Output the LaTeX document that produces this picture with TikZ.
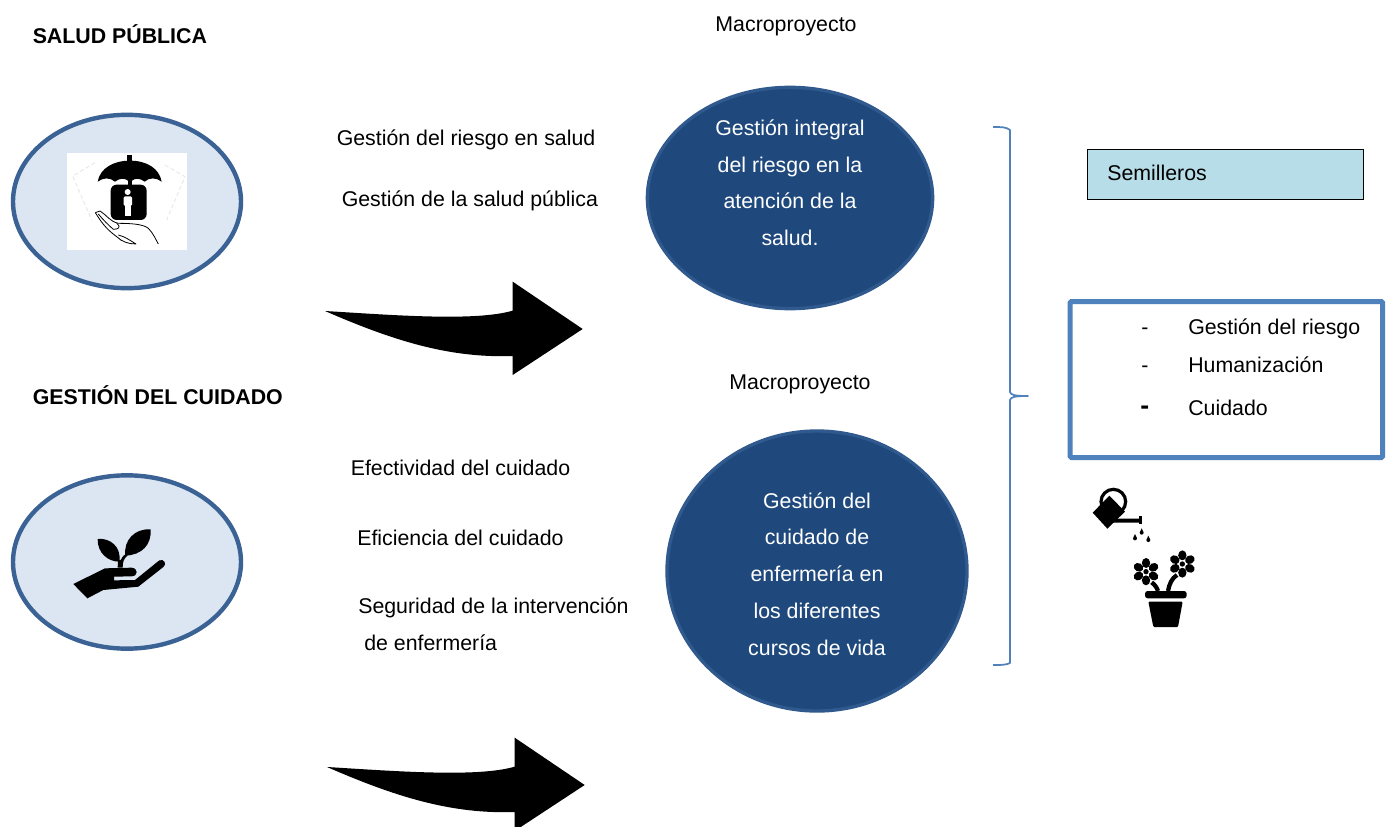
\documentclass[tikz,border=0pt]{standalone}
\usepackage{fontspec}
\setmainfont{Liberation Sans}
\definecolor{lightblue}{HTML}{DCE6F2}
\definecolor{ringblue}{HTML}{3B6294}
\definecolor{darkblue}{HTML}{1F497D}
\definecolor{darkring}{HTML}{30598E}
\definecolor{semi}{HTML}{B7DEE8}
\definecolor{boxblue}{HTML}{4F81BD}
\tikzset{
  lbl/.style={anchor=west,inner sep=0pt,text height=13pt,text depth=1.5pt,font=\fontsize{16}{18}\selectfont,text=black},
  head/.style={lbl,font=\fontsize{16}{18}\selectfont\bfseries},
  oval/.style={ellipse,draw=ringblue,line width=3.3pt,fill=lightblue,inner sep=0pt,minimum width=171pt,minimum height=130pt},
  macro/.style={ellipse,draw=darkring,line width=2.5pt,fill=darkblue,inner sep=0pt},
  inoval/.style={lbl,anchor=center,text=white},
  swoosh/.style={fill=black,draw=none},
}
\usetikzlibrary{shapes.geometric}
\begin{document}
\begin{tikzpicture}[x=0.75pt,y=-0.75pt]
\useasboundingbox (0,0) rectangle (1387,827);
\fill[white] (0,0) rectangle (1387,827);

\node[head] (t1) at (32.5,36) {SALUD PÚBLICA};
\node[head] (t2) at (32.5,397) {GESTIÓN DEL CUIDADO};

\node[oval] (c1) at (127,201.5) {};
\node[oval] (c2) at (127,562) {};

% umbrella icon
\begin{scope}[shift={(50,140)},scale=1/3]
\fill[white] (51,39) rectangle (411,330);
\draw[black!9,densely dashed,line width=.7pt] (135,68) -- (68,108) -- (125,240);
\draw[black!9,densely dashed,line width=.7pt] (345,75) -- (405,110) -- (350,240);
\fill[black] (232,45) rectangle (247,70);
\fill[black] (143,125) .. controls (150,85) and (190,62) .. (240,62) .. controls (290,62) and (328,85) .. (335,125)
  .. controls (318,112) and (298,112) .. (284,125) .. controls (270,114) and (255,114) .. (246,122) -- (234,122)
  .. controls (225,114) and (208,114) .. (195,125) .. controls (180,112) and (160,112) .. (143,125) -- cycle;
\fill[black] (234,120) rectangle (246,136);
\fill[black,rounded corners=4.5pt] (182,134) rectangle (290,240);
\fill[white] (233,156) circle (9);
\fill[white,rounded corners=1pt] (221,169) rectangle (246,198);
\fill[white] (225,195) rectangle (243,228);
\draw[black,line width=.6pt,line join=round] (136,218) -- (150,213) .. controls (170,225) and (180,245) .. (205,250)
  .. controls (240,250) and (280,252) .. (295,265) .. controls (310,280) and (318,300) .. (325,312);
\draw[black,line width=.6pt,line join=round] (136,218) .. controls (150,240) and (165,265) .. (200,290)
  .. controls (215,305) and (235,312) .. (258,312) .. controls (235,298) and (225,290) .. (205,285);
\draw[black,line width=.6pt] (145,222) .. controls (160,240) and (175,255) .. (190,268) .. controls (205,268) and (215,262) .. (200,250);
\end{scope}

% plant in hand icon
\begin{scope}[shift={(60,515)},scale=1/3]
\fill[black] (113,72) .. controls (150,68) and (185,95) .. (178,140) .. controls (145,140) and (112,115) .. (113,72) -- cycle;
\fill[black] (272,43) .. controls (275,90) and (245,120) .. (196,122) .. controls (190,75) and (225,40) .. (272,43) -- cycle;
\fill[black] (173,158) -- (174,135) -- (182,135) .. controls (186,125) and (192,120) .. (200,115) -- (202,122) .. controls (192,130) and (188,140) .. (188,158) -- cycle;
\fill[black] (40,207) -- (135,160) -- (215,158) .. controls (235,160) and (235,183) .. (215,184) -- (162,185) -- (162,196) -- (225,195) -- (298,136) .. controls (312,130) and (322,148) .. (310,156) -- (235,215) -- (130,225) -- (82,250) -- cycle;
\end{scope}

\node[lbl] (a1) at (336.5,138) {Gestión del riesgo en salud};
\node[lbl] (a2) at (341.5,199) {Gestión de la salud pública};
\node[lbl] (b1) at (350.5,468) {Efectividad del cuidado};
\node[lbl] (b2) at (357,538) {Eficiencia del cuidado};
\node[lbl] (b3) at (358,606) {Seguridad de la intervención};
\node[lbl] (b4) at (364,643) {de enfermería};

% arrows
\begin{scope}[shift={(315,270)},scale=1/3]
\fill[swoosh] (30,123) .. controls (230,135) and (480,155) .. (593,122) -- (593,35) -- (803,177) -- (593,315) -- (593,258)
  .. controls (400,265) and (230,210) .. (30,123) -- cycle;
\end{scope}
\begin{scope}[shift={(317,726)},scale=1/3]
\fill[swoosh] (30,123) .. controls (230,135) and (480,155) .. (593,122) -- (593,35) -- (803,177) -- (593,315) -- (593,258)
  .. controls (400,265) and (230,210) .. (30,123) -- cycle;
\end{scope}

\node[lbl,anchor=center] (m1) at (786,24) {Macroproyecto};
\node[lbl,anchor=center] (m2) at (800,382) {Macroproyecto};

\node[macro,minimum width=214pt,minimum height=166pt] (e1) at (790,198) {};
\node[macro,minimum width=225pt,minimum height=210pt] (e2) at (817,571) {};
\node[inoval] (e1a) at (790,128) {Gestión integral};
\node[inoval] (e1b) at (790,165) {del riesgo en la};
\node[inoval] (e1c) at (790,201) {atención de la};
\node[inoval] (e1d) at (790,238) {salud.};
\node[inoval] (e2a) at (817,501) {Gestión del};
\node[inoval] (e2b) at (817,537) {cuidado de};
\node[inoval] (e2c) at (817,574) {enfermería en};
\node[inoval] (e2d) at (817,611) {los diferentes};
\node[inoval] (e2e) at (817,648) {cursos de vida};

% brace
\draw[boxblue,line width=1.3pt,line join=round] (993,127) .. controls (1002,127) and (1006,127) .. (1010,130) -- (1010,392) .. controls (1011,395) and (1014,396) .. (1028,396)
  .. controls (1014,396) and (1011,397) .. (1010,400) -- (1010,663) .. controls (1006,665) and (1002,665) .. (993,665);

\node[draw=black,line width=.6pt,fill=semi,minimum width=207pt,minimum height=37.5pt,anchor=north west,inner sep=0pt] (s) at (1087,149) {};
\node[lbl] (st) at (1107,173) {Semilleros};

\node[draw=boxblue,line width=3.75pt,rounded corners=1pt,minimum width=234.4pt,minimum height=117pt,anchor=north west,inner sep=0pt] (g) at (1067.5,299) {};
\node[lbl] (g1d) at (1141,327) {-};
\node[lbl] (g1) at (1188,327) {Gestión del riesgo};
\node[lbl] (g2d) at (1141,364.5) {-};
\node[lbl] (g2) at (1188,364.5) {Humanización};
\node[lbl,font=\fontsize{20}{22}\selectfont\bfseries] (g3d) at (1140,407) {-};
\node[lbl] (g3) at (1188,408) {Cuidado};

% watering can and flowers
\begin{scope}[shift={(1080,480)},scale=1/3]
\draw[black,line width=2.4pt] (100,65) circle (37);
\fill[black] (38,98) -- (88,47) -- (135,95) -- (82,146) -- cycle;
\fill[black] (110,116) -- (178,116) -- (178,128) -- (100,128) -- cycle;
\fill[black] (177,107) rectangle (187,133);
\foreach \x/\y in {165/172,185/155,205/177}{
  \fill[black] (\x,\y-10) .. controls (\x+2,\y-3) and (\x+6,\y) .. (\x+6,\y+3) arc[start angle=0,end angle=180,radius=6] .. controls (\x-6,\y) and (\x-2,\y-3) .. (\x,\y-10) -- cycle;
}
\foreach \cx/\cy in {198/275,307/252}{
  \foreach \a in {30,90,...,330}{
    \fill[black,rotate around={\a:(\cx,\cy)}] (\cx+26,\cy) ellipse[x radius=15,y radius=12.5];
  }
  \fill[white] (\cx,\cy) circle (11);
  \fill[black] (\cx,\cy) circle (8);
}
\draw[black,line width=3.2pt] (215,307) .. controls (225,315) and (230,322) .. (234,333);
\draw[black,line width=3.2pt] (264,333) .. controls (268,312) and (275,295) .. (291,285);
\fill[black,rounded corners=2pt] (195,333) rectangle (320,355);
\fill[black,rounded corners=.8pt] (205,365) -- (308,365) -- (294,441) -- (220,441) -- cycle;
\end{scope}
\end{tikzpicture}
\end{document}
